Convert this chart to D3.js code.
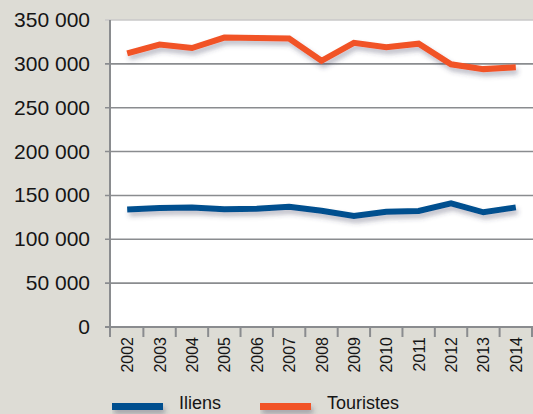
<!DOCTYPE html>
<html>
<head>
<meta charset="utf-8">
<script src="https://cdn.jsdelivr.net/npm/d3@7"></script>
<style>
  body { margin: 0; background: #dddcd5; }
  svg { display: block; }
  text { font-family: "Liberation Sans", Arial, sans-serif; fill: #151515; }
</style>
</head>
<body>
<div id="chart"></div>
<script>
// data
var years = ["2002","2003","2004","2005","2006","2007","2008","2009","2010","2011","2012","2013","2014"];
var iliens = [134000,135700,136300,134200,134900,137000,132500,126500,131500,132200,141000,130800,136400];
var touristes = [312000,322000,318000,330000,329500,329000,303500,324000,319000,323000,299500,294000,296000];
var yTicks = [0,50000,100000,150000,200000,250000,300000,350000];
var seriesNames = ["Iliens","Touristes"];
var seriesColors = ["#03508f","#f15326"];

var width = 533, height = 414;
var plotLeft = 110, plotRight = 533, plotTop = 20, plotBottom = 327;

var svg = d3.select('#chart').append('svg')
	.attr('width', width)
	.attr('height', height);

/* shadow under the lines */
var f = svg.append('defs').append('filter').attr('id','shadow')
	.attr('filterUnits','userSpaceOnUse')
	.attr('x', 0).attr('y', 0).attr('width', width).attr('height', height);
f.append('feDropShadow')
	.attr('dx', 2).attr('dy', 4).attr('stdDeviation', 2.5)
	.attr('flood-color', '#3a3a5a').attr('flood-opacity', 0.35);

var x = d3.scaleBand().domain(years).range([plotLeft + 1, 532]);
var y = d3.scaleLinear().domain([0, 350000]).range([plotBottom, plotTop]);

// plot background
svg.append('rect')
	.attr('x', plotLeft).attr('y', plotTop)
	.attr('width', plotRight - plotLeft).attr('height', plotBottom - plotTop)
	.style('fill', '#fff');

// grid lines + y ticks
svg.selectAll('.grid').data(yTicks.slice(1)).enter()
	.append('line').attr('class','grid')
	.attr('x1', plotLeft - 5).attr('x2', plotRight)
	.attr('y1', function(d){ return y(d); })
	.attr('y2', function(d){ return y(d); })
	.style('stroke', function(d){ return d === 350000 ? '#c9c9c9' : '#8a8c8f'; })
	.style('stroke-width', 1.6);

// y labels
svg.selectAll('.ylab').data(yTicks).enter()
	.append('text').attr('class','ylab')
	.attr('x', 90)
	.attr('y', function(d){ return y(d) + 7; })
	.attr('text-anchor','end')
	.style('font-size','21px')
	.text(function(d){ return d3.format(",")(d).replace(/,/g, " "); });

// axes
svg.append('line')
	.attr('x1', plotLeft).attr('x2', plotLeft).attr('y1', plotTop).attr('y2', plotBottom + 10)
	.style('stroke', '#8a8c8f').style('stroke-width', 2);
svg.append('line')
	.attr('x1', plotLeft - 5).attr('x2', plotRight).attr('y1', plotBottom).attr('y2', plotBottom)
	.style('stroke', '#8a8c8f').style('stroke-width', 2);

// x ticks at band edges
svg.selectAll('.xtick').data(years).enter()
	.append('line').attr('class','xtick')
	.attr('x1', function(d){ return x(d) + x.bandwidth(); })
	.attr('x2', function(d){ return x(d) + x.bandwidth(); })
	.attr('y1', plotBottom).attr('y2', plotBottom + 10)
	.style('stroke', '#8a8c8f').style('stroke-width', 2);

// x labels, rotated
svg.selectAll('.xlab').data(years).enter()
	.append('text').attr('class','xlab')
	.attr('transform', function(d){
		return 'translate(' + (x(d) + x.bandwidth() / 2 + 6) + ',' + (plotBottom + 10) + ') rotate(-90)';
	})
	.attr('text-anchor','end')
	.style('font-size','16px')
	.text(function(d){ return d; });

// lines
var line = d3.line()
	.x(function(d, i){ return x(years[i]) + x.bandwidth() / 2; })
	.y(function(d){ return y(d); });

[iliens, touristes].forEach(function(s, i){
	svg.append('path')
		.datum(s)
		.attr('d', line)
		.attr('filter', 'url(#shadow)')
		.style('fill', 'none')
		.style('stroke', seriesColors[i])
		.style('stroke-width', 6)
		.style('stroke-linejoin', 'miter');
});

// legend
var legend = svg.selectAll('.legend').data(seriesNames).enter()
	.append('g').attr('class','legend')
	.attr('transform', function(d, i){ return 'translate(' + (112 + i * 148) + ',403)'; });
legend.append('rect')
	.attr('x', 0).attr('y', 0).attr('width', 51).attr('height', 7)
	.attr('filter', 'url(#shadow)')
	.style('fill', function(d, i){ return seriesColors[i]; });
legend.append('text')
	.attr('x', 67).attr('y', 6)
	.style('font-size','18px')
	.text(function(d){ return d; });
</script>
</body>
</html>
